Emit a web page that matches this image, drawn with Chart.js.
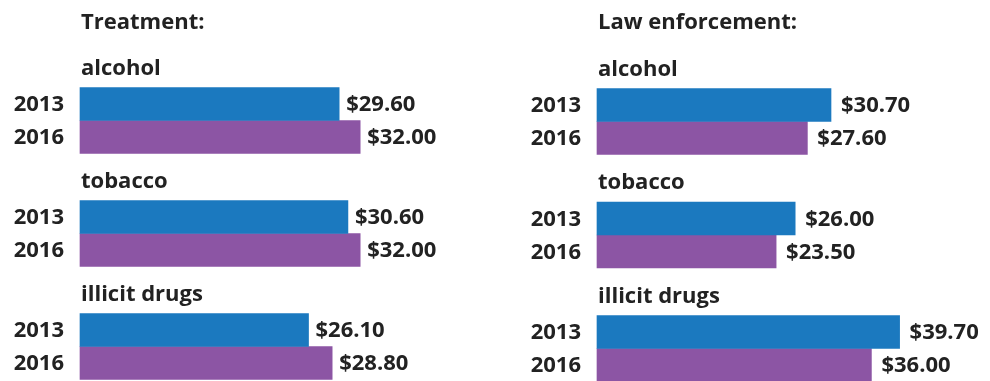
<!DOCTYPE html>
<html>
<head>
<meta charset="utf-8">
<script src="https://cdn.jsdelivr.net/npm/chart.js@4.4.1/dist/chart.umd.min.js"></script>
<style>
  html, body { margin: 0; padding: 0; background: #fff; }
  .wrap { display: flex; width: 990px; height: 381px; }
  .panel { position: relative; width: 495px; height: 381px; }
</style>
</head>
<body>
<div class="wrap">
  <div class="panel"><canvas id="chart-treatment"></canvas></div>
  <div class="panel"><canvas id="chart-law"></canvas></div>
</div>
<script>
// data
var categories = ['alcohol', 'tobacco', 'illicit drugs'];
var years = ['2013', '2016'];
var treatment2013 = [29.60, 30.60, 26.10];
var treatment2016 = [32.00, 32.00, 28.80];
var law2013 = [30.70, 26.00, 39.70];
var law2016 = [27.60, 23.50, 36.00];

var FONT = '"Open Sans", "Noto Sans", sans-serif';
var TEXT = '#222222';
var BLUE = '#1b79bf';
var PURPLE = '#8c55a4';

// draws panel title, group headers, year labels and value labels
var labelsPlugin = {
  id: 'panelLabels',
  afterDatasetsDraw: function (chart, args, opts) {
    var ctx = chart.ctx;
    var area = chart.chartArea;
    ctx.save();
    ctx.fillStyle = TEXT;
    ctx.font = 'bold 22px ' + FONT;
    ctx.textAlign = 'left';
    ctx.textBaseline = 'alphabetic';
    ctx.fillText(opts.title, area.left + 1, opts.titleY);

    var first = chart.getDatasetMeta(0).data;
    first.forEach(function (bar, i) {
      var top = bar.y - bar.height / 2;
      ctx.textAlign = 'left';
      ctx.textBaseline = 'alphabetic';
      ctx.fillText(chart.data.labels[i], area.left + 1, top - 13);
    });

    chart.data.datasets.forEach(function (ds, d) {
      chart.getDatasetMeta(d).data.forEach(function (bar, i) {
        ctx.textBaseline = 'middle';
        ctx.textAlign = 'right';
        ctx.fillText(ds.label, area.left - 16, bar.y + 1);
        ctx.textAlign = 'left';
        ctx.fillText('$' + ds.data[i].toFixed(2), bar.x + opts.gap, bar.y + 1);
      });
    });
    ctx.restore();
  }
};

function makePanel(id, title, a, b, pad, scaleMax, gap) {
  new Chart(document.getElementById(id), {
    type: 'bar',
    data: {
      labels: categories,
      datasets: [
        { label: years[0], data: a, backgroundColor: BLUE },
        { label: years[1], data: b, backgroundColor: PURPLE }
      ]
    },
    options: {
      indexAxis: 'y',
      responsive: true,
      maintainAspectRatio: false,
      animation: false,
      barThickness: 33,
      clip: false,
      layout: { padding: pad },
      scales: {
        x: { display: false, min: 0, max: scaleMax },
        y: { display: false, offset: false }
      },
      plugins: {
        legend: { display: false },
        tooltip: { enabled: false },
        panelLabels: { title: title, titleY: 29, gap: gap }
      }
    },
    plugins: [labelsPlugin]
  });
}

makePanel('chart-treatment', 'Treatment:', treatment2013, treatment2016,
  { left: 80, right: 21, top: 120.5, bottom: 34.5 }, 45, 7);
makePanel('chart-law', 'Law enforcement:', law2013, law2016,
  { left: 102, right: 50, top: 121.5, bottom: 32.5 }, 45, 10);
</script>
</body>
</html>
